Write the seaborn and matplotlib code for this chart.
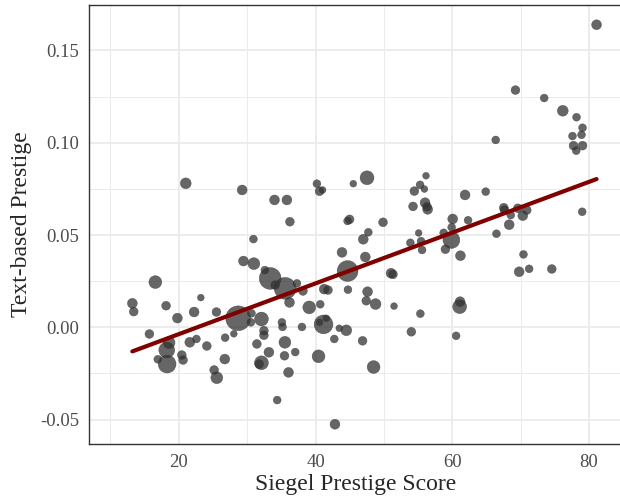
import numpy as np
import pandas as pd
import matplotlib
matplotlib.use("Agg")
import matplotlib.pyplot as plt
import seaborn as sns

# Values
siegel = [81.10, 69.24, 73.44, 76.16, 78.17, 79.05, 77.58, 78.90, 77.73, 79.05,
          78.13, 66.35, 21.02, 29.27, 30.92, 29.46, 30.98, 32.59, 33.37, 16.57,
          23.22, 47.53, 56.16, 45.52, 40.20, 40.59, 41.03, 34.00, 35.81, 36.25,
          44.98, 44.69, 49.87, 55.29, 54.45, 55.92, 56.02, 56.31, 56.40, 54.26,
          47.72, 46.98, 43.87, 47.28, 55.08, 53.87, 55.43, 55.58, 44.69, 34.10,
          35.56, 37.28, 38.16, 41.27, 41.82, 44.74, 47.61, 51.04, 51.33, 61.87,
          64.89, 67.53, 67.63, 69.58, 70.89, 68.55, 70.31, 79.00, 60.06, 62.31,
          59.91, 58.74, 68.32, 66.46, 59.87, 58.99, 61.19, 70.41, 69.78, 71.24,
          74.55, 61.14, 61.08, 60.56, 13.21, 13.41, 18.14, 19.80, 22.24, 25.51,
          28.68, 30.63, 30.54, 32.09, 15.70, 18.58, 18.24, 18.29, 16.93, 20.44,
          20.63, 21.61, 22.58, 24.10, 26.78, 28.05, 26.73, 25.17, 25.56, 31.42,
          32.45, 32.45, 32.09, 31.76, 36.19, 39.08, 40.69, 41.17, 40.59, 41.57,
          35.08, 35.17, 38.01, 43.47, 44.50, 42.74, 46.88, 35.52, 33.18, 35.46,
          37.03, 40.44, 36.05, 48.49, 34.39, 42.84, 47.42, 48.78, 51.48, 55.33,
          54.01]
text_prestige = [0.1639, 0.1285, 0.1242, 0.1173, 0.1138, 0.1081, 0.1036, 0.1043, 0.0984, 0.0984,
                 0.0957, 0.1015, 0.0780, 0.0744, 0.0478, 0.0359, 0.0345, 0.0310, 0.0265, 0.0245,
                 0.0161, 0.0810, 0.0821, 0.0778, 0.0778, 0.0737, 0.0744, 0.0690, 0.0690, 0.0572,
                 0.0585, 0.0576, 0.0569, 0.0772, 0.0738, 0.0749, 0.0675, 0.0653, 0.0639, 0.0655,
                 0.0515, 0.0477, 0.0406, 0.0381, 0.0511, 0.0458, 0.0467, 0.0419, 0.0305, 0.0229,
                 0.0211, 0.0238, 0.0197, 0.0207, 0.0202, 0.0204, 0.0193, 0.0293, 0.0287, 0.0717,
                 0.0735, 0.0648, 0.0635, 0.0645, 0.0635, 0.0608, 0.0605, 0.0626, 0.0587, 0.0580,
                 0.0542, 0.0512, 0.0556, 0.0507, 0.0473, 0.0423, 0.0388, 0.0395, 0.0301, 0.0317,
                 0.0316, 0.0139, 0.0112, -0.0046, 0.0130, 0.0085, 0.0117, 0.0050, 0.0083, 0.0083,
                 0.0049, 0.0076, 0.0027, 0.0045, -0.0036, -0.0083, -0.0123, -0.0199, -0.0173, -0.0150,
                 -0.0177, -0.0081, -0.0063, -0.0101, -0.0056, -0.0035, -0.0172, -0.0231, -0.0273, -0.0090,
                 -0.0043, -0.0018, -0.0192, -0.0199, 0.0135, 0.0108, 0.0125, 0.0016, 0.0027, 0.0049,
                 0.0027, 0.0002, 0.0002, -0.0005, -0.0016, -0.0063, -0.0073, -0.0081, -0.0135, -0.0154,
                 -0.0134, -0.0157, -0.0244, -0.0215, -0.0394, -0.0525, 0.0144, 0.0126, 0.0115, 0.0074,
                 -0.0024]
weight = [25, 20, 16, 30, 16, 16, 16, 16, 20, 20,
          16, 16, 30, 25, 16, 25, 36, 16, 121, 42,
          12, 49, 12, 12, 16, 20, 12, 25, 25, 20,
          20, 16, 20, 16, 20, 12, 25, 20, 25, 20,
          16, 25, 25, 25, 12, 16, 16, 16, 110, 20,
          121, 16, 20, 25, 20, 16, 25, 25, 20, 25,
          16, 20, 20, 20, 20, 16, 25, 16, 25, 16,
          16, 16, 25, 16, 72, 20, 25, 16, 25, 16,
          20, 25, 49, 16, 25, 20, 20, 25, 25, 20,
          156, 16, 16, 49, 20, 36, 64, 81, 16, 20,
          20, 25, 16, 20, 16, 12, 25, 20, 36, 20,
          20, 20, 49, 20, 25, 42, 16, 90, 12, 12,
          16, 16, 16, 12, 30, 16, 20, 36, 25, 20,
          16, 42, 25, 42, 16, 25, 20, 30, 12, 16,
          20]

# fitted line
fit_intercept = -0.0312
fit_slope = 0.001375

df = pd.DataFrame({"siegel": siegel, "text": text_prestige, "weight": weight})
line_x = np.array([df["siegel"].min(), df["siegel"].max()])
line_df = pd.DataFrame({"siegel": line_x, "text": fit_intercept + fit_slope * line_x})

sns.set_style("white")
plt.rcParams["font.family"] = ["Liberation Serif", "DejaVu Serif"]

fig = plt.figure(figsize=(6.2, 4.99), dpi=100)
ax = fig.add_axes([0.144, 0.1102, 0.859, 0.8798])

sns.scatterplot(data=df, x="siegel", y="text", size="weight",
                sizes=(24, 320), size_norm=(12, 156), color="#333333",
                alpha=0.75, edgecolor="#333333", linewidth=0.3,
                legend=False, ax=ax, zorder=3)
sns.lineplot(data=line_df, x="siegel", y="text", color="#800000",
             linewidth=3.0, ax=ax, zorder=4)

ax.set_xlim(6.91, 84.8)
ax.set_ylim(-0.0632, 0.1746)
ax.set_xticks([20, 40, 60, 80])
ax.set_xticks([10, 30, 50, 70], minor=True)
ax.set_yticks([-0.05, 0.0, 0.05, 0.10, 0.15])
ax.set_yticklabels(["-0.05", "0.00", "0.05", "0.10", "0.15"])
ax.set_yticks([-0.025, 0.025, 0.075, 0.125], minor=True)
ax.grid(which="major", color="#ebebeb", linewidth=1.3)
ax.grid(which="minor", color="#ebebeb", linewidth=0.7)
ax.set_axisbelow(True)

ax.tick_params(axis="both", which="major", labelsize=13.5, labelcolor="#4d4d4d",
               color="#333333", length=4, width=1, pad=3)
ax.tick_params(axis="both", which="minor", length=0)
for s in ax.spines.values():
    s.set_color("#333333")
    s.set_linewidth(1.0)

ax.set_xlabel("Siegel Prestige Score", fontsize=17, labelpad=2)
ax.set_ylabel("Text-based Prestige", fontsize=17, labelpad=6)

fig.savefig("out.png", dpi=100)
